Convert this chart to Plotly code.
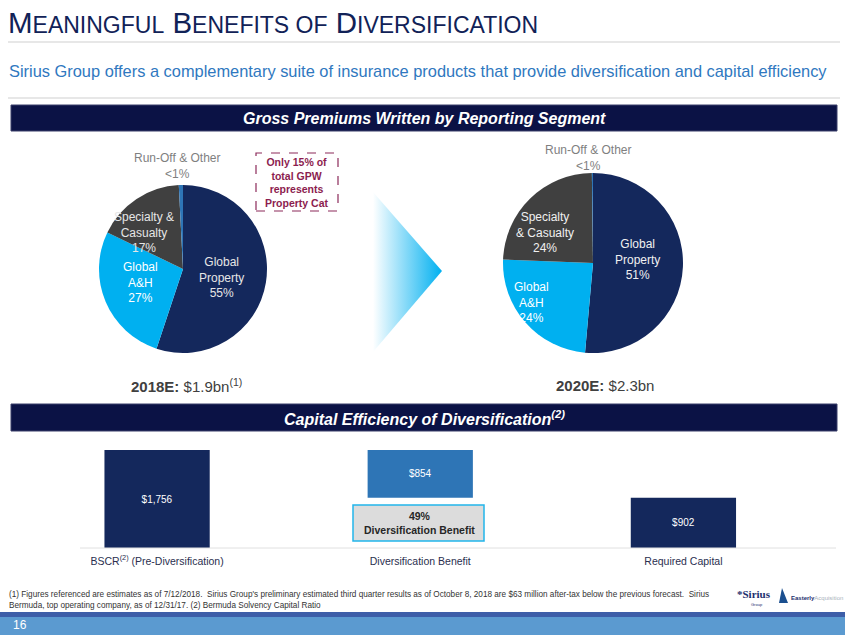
import plotly.graph_objects as go

W, H = 845, 635

# ---------------- data ----------------
segments = ["Global Property", "Global A&H", "Specialty & Casualty", "Run-Off & Other"]
gpw_2018 = [55, 27, 17, 0.8]
gpw_2020 = [51, 24, 24, 0.2]
seg_colors = ["#14285c", "#00b0f0", "#404040", "#2e75b6"]

cap_categories = ["BSCR<sup>(2)</sup> (Pre-Diversification)", "Diversification Benefit", "Required Capital"]
bscr_pre = 1756
div_benefit = 854
required_cap = 902

NAVY = "#14285c"
HDR = "#0b1245"
FONT = "Liberation Sans, Arial, sans-serif"
NARROW = "Liberation Sans Narrow, Arial Narrow, Liberation Sans, Arial, sans-serif"

def px(x):
    return x / W

def py(y):
    return 1 - y / H

fig = go.Figure()

# ---------------- pies ----------------
fig.add_trace(go.Pie(
    labels=segments, values=gpw_2018, sort=False, direction="clockwise", rotation=0,
    marker=dict(colors=seg_colors, line=dict(width=0)), textinfo="none", hoverinfo="label",
    domain=dict(x=[px(99), px(267)], y=[py(353), py(185)]), showlegend=False))
fig.add_trace(go.Pie(
    labels=segments, values=gpw_2020, sort=False, direction="clockwise", rotation=0,
    marker=dict(colors=seg_colors, line=dict(width=0)), textinfo="none", hoverinfo="label",
    domain=dict(x=[px(503), px(683)], y=[py(353), py(173)]), showlegend=False))

# ---------------- capital bars ----------------
bar_vals = [bscr_pre, div_benefit, required_cap]
bar_base = [0, required_cap, 0]
fig.add_trace(go.Bar(
    x=cap_categories, y=bar_vals, base=bar_base, width=0.40,
    marker=dict(color=[NAVY, "#2e75b6", NAVY], line=dict(width=0)),
    text=[f"${v:,}" for v in bar_vals], textposition="inside", insidetextanchor="middle",
    textfont=dict(color="white", size=10, family=FONT), showlegend=False,
    xaxis="x", yaxis="y", cliponaxis=False))

# ---------------- arrow (gradient triangle) ----------------
fig.add_trace(go.Scatter(
    x=[373, 442, 373, 373], y=[192, 271, 352, 192], mode="lines", fill="toself",
    line=dict(width=0, color="rgba(0,0,0,0)"),
    fillgradient=dict(type="horizontal", colorscale=[[0, "rgba(255,255,255,1)"], [1, "#00b0f0"]]),
    xaxis="x2", yaxis="y2", hoverinfo="skip", showlegend=False))

shapes = []
ann = []

# title + separators
title_html = ('M<span style="font-size:23px">EANINGFUL</span> B<span style="font-size:23px">ENEFITS OF</span> '
              'D<span style="font-size:23px">IVERSIFICATION</span>')
ann.append(dict(x=px(6), y=py(22), xref="paper", yref="paper", xanchor="left", yanchor="middle",
                text=title_html, showarrow=False, font=dict(size=29.5, color="#112257", family=NARROW)))
shapes.append(dict(type="line", xref="paper", yref="paper", x0=px(8), x1=px(840), y0=py(42), y1=py(42),
                   line=dict(color="#cfcfcf", width=1)))
ann.append(dict(x=px(7), y=py(71), xref="paper", yref="paper", xanchor="left", yanchor="middle",
                text="Sirius Group offers a complementary suite of insurance products that provide diversification and capital efficiency",
                showarrow=False, font=dict(size=16.4, color="#2f78c0", family=NARROW)))
shapes.append(dict(type="line", xref="paper", yref="paper", x0=px(8), x1=px(840), y0=py(98), y1=py(98),
                   line=dict(color="#cfcfcf", width=1)))

# header bars
def header(y0, y1, text):
    shapes.append(dict(type="rect", xref="paper", yref="paper", x0=px(11), x1=px(837), y0=py(y1), y1=py(y0),
                       fillcolor=HDR, line=dict(color="#3a3f6a", width=1), layer="below"))
    ann.append(dict(x=px(424), y=py((y0 + y1) / 2), xref="paper", yref="paper", xanchor="center", yanchor="middle",
                    text=f"<b><i>{text}</i></b>", showarrow=False, font=dict(size=16, color="white", family=NARROW)))

header(105, 131, "Gross Premiums Written by Reporting Segment")
header(404, 431, "Capital Efficiency of Diversification<sup>(2)</sup>")

# pie labels
def lab(x, y, text, color="white", size=12):
    ann.append(dict(x=px(x), y=py(y), xref="paper", yref="paper", xanchor="center", yanchor="middle",
                    text=text, showarrow=False, font=dict(size=size, color=color, family=FONT)))

lab(177, 166, "Run-Off & Other<br><1%", color="#7f7f7f")
lab(144, 232, "Specialty &<br>Casualty<br>17%", color="#e6e6e6")
lab(140, 282, "Global<br>A&H<br>27%")
lab(222, 277, "Global<br>Property<br>55%", color="#e6e6e6")

lab(588, 158, "Run-Off & Other<br><1%", color="#7f7f7f")
lab(545, 233, "Specialty<br>& Casualty<br>24%", color="#f0f0f0")
lab(637, 259, "Global<br>Property<br>51%", color="#f0f0f0")
lab(531, 303, "Global<br>A&H<br>24%")

# callout box
shapes.append(dict(type="rect", xref="paper", yref="paper", x0=px(256), x1=px(338), y0=py(211), y1=py(153),
                   fillcolor="white", line=dict(color="#8c2a5a", width=1.2, dash="dash")))
ann.append(dict(x=px(297), y=py(182), xref="paper", yref="paper", xanchor="center", yanchor="middle",
                text="<b>Only 15% of<br>total GPW<br>represents<br>Property Cat</b>", showarrow=False,
                font=dict(size=10.5, color="#8c1d4f", family=FONT)))

# pie captions
ann.append(dict(x=px(186), y=py(385), xref="paper", yref="paper", xanchor="center", yanchor="middle",
                text="<b>2018E:</b> $1.9bn<sup>(1)</sup>", showarrow=False,
                font=dict(size=15, color="#404040", family=NARROW)))
ann.append(dict(x=px(605), y=py(385), xref="paper", yref="paper", xanchor="center", yanchor="middle",
                text="<b>2020E:</b> $2.3bn", showarrow=False,
                font=dict(size=15, color="#404040", family=NARROW)))

# diversification benefit box
pct = round(div_benefit / bscr_pre * 100)
shapes.append(dict(type="rect", xref="paper", yref="paper", x0=px(353), x1=px(484), y0=py(541), y1=py(505),
                   fillcolor="#dcdcdc", line=dict(color="#22b5ea", width=1.5)))
ann.append(dict(x=px(419), y=py(523), xref="paper", yref="paper", xanchor="center", yanchor="middle",
                text=f"<b>{pct}%<br>Diversification Benefit</b>", showarrow=False,
                font=dict(size=10.5, color="#262626", family=NARROW)))

# footnote
ann.append(dict(x=px(7), y=py(600), xref="paper", yref="paper", xanchor="left", yanchor="middle", align="left",
                text=("(1) Figures referenced are estimates as of 7/12/2018.  Sirius Group's preliminary estimated third quarter results as of October 8, 2018 are $63 million after-tax below the previous forecast.  Sirius<br>"
                      "Bermuda, top operating company, as of 12/31/17. (2) Bermuda Solvency Capital Ratio"),
                showarrow=False, font=dict(size=8.2, color="#333333", family=NARROW)))

# logos (text approximations)
ann.append(dict(x=px(754), y=py(594), xref="paper", yref="paper", xanchor="center", yanchor="middle",
                text="<b>*Sirius</b>", showarrow=False, font=dict(size=11, color="#1b2f6e", family="Liberation Serif, serif")))
ann.append(dict(x=px(757), y=py(604), xref="paper", yref="paper", xanchor="center", yanchor="middle",
                text="Group", showarrow=False, font=dict(size=4, color="#1b2f6e", family=FONT)))
shapes.append(dict(type="path", xref="paper", yref="paper",
                   path=f"M {px(779)},{py(603)} L {px(782)},{py(588)} L {px(788)},{py(603)} Z",
                   fillcolor="#1b4f8f", line=dict(width=0)))
ann.append(dict(x=px(789), y=py(598), xref="paper", yref="paper", xanchor="left", yanchor="middle",
                text='<b>Easterly</b><span style="color:#a9b3bd">Acquisition</span>', showarrow=False,
                font=dict(size=6, color="#1b2f6e", family=FONT)))

# footer band
shapes.append(dict(type="rect", xref="paper", yref="paper", x0=0, x1=1, y0=0, y1=py(612),
                   fillcolor="#5b9ad0", line=dict(width=0)))
shapes.append(dict(type="rect", xref="paper", yref="paper", x0=0, x1=1, y0=py(617), y1=py(612),
                   fillcolor="#3d5ea8", line=dict(width=0)))
ann.append(dict(x=px(11), y=py(625), xref="paper", yref="paper", xanchor="left", yanchor="middle",
                text="16", showarrow=False, font=dict(size=12, color="white", family=FONT)))

# bar baseline
shapes.append(dict(type="line", xref="paper", yref="paper", x0=px(80), x1=px(836), y0=py(548), y1=py(548),
                   line=dict(color="#e0e0e0", width=1)))

ymax = bscr_pre * 108 / 98

fig.update_layout(
    width=W, height=H, margin=dict(l=0, r=0, t=0, b=0),
    paper_bgcolor="white", plot_bgcolor="rgba(0,0,0,0)",
    font=dict(family=FONT),
    xaxis=dict(domain=[px(25.5), px(815)], range=[-0.5, 2.5], showline=False, showgrid=False, zeroline=False,
               ticks="", ticklabelstandoff=5, tickfont=dict(size=10.5, color="#2a2f4f", family=NARROW),
               fixedrange=True),
    yaxis=dict(domain=[py(548), py(440)], range=[0, ymax], visible=False, fixedrange=True),
    xaxis2=dict(domain=[0, 1], range=[0, W], visible=False, anchor="y2", fixedrange=True),
    yaxis2=dict(domain=[0, 1], range=[H, 0], visible=False, anchor="x2", fixedrange=True),
    shapes=shapes, annotations=ann, showlegend=False,
)

fig.write_html("out.html", config={"displayModeBar": False},
               post_script="document.body.style.margin='0';document.body.style.overflow='hidden';")
